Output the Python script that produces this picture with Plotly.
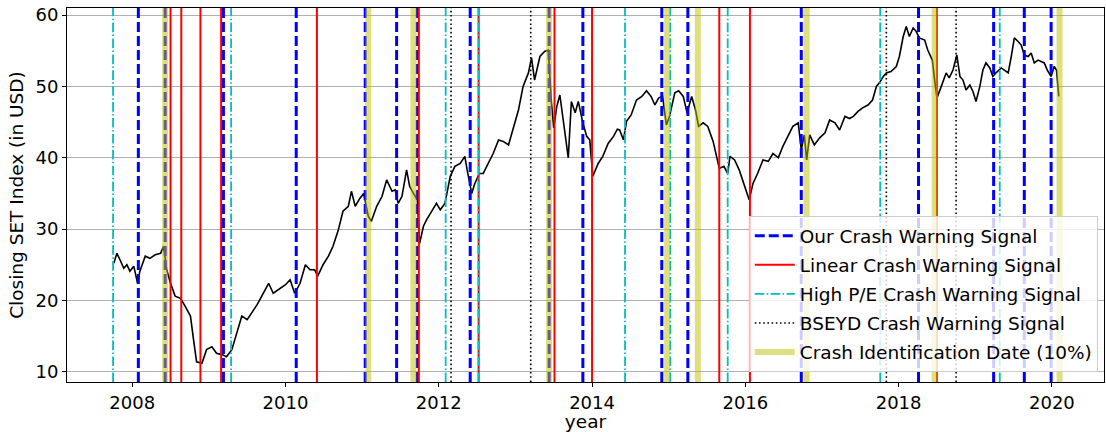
import plotly.graph_objects as go

# Closing SET index (USD), sampled along the series, decimal years
years = [
    2007.76, 2007.80, 2007.84, 2007.89, 2007.93, 2007.97, 2008.02, 2008.07, 2008.10, 2008.17,
    2008.23, 2008.30, 2008.37, 2008.41, 2008.45, 2008.50, 2008.56, 2008.63, 2008.69, 2008.76,
    2008.80, 2008.84, 2008.91, 2008.97, 2009.04, 2009.10, 2009.17, 2009.23, 2009.30, 2009.37,
    2009.43, 2009.50, 2009.56, 2009.63, 2009.69, 2009.78, 2009.84, 2009.91, 2010.00, 2010.06,
    2010.12, 2010.19, 2010.26, 2010.32, 2010.38, 2010.42, 2010.49, 2010.56, 2010.62, 2010.69,
    2010.75, 2010.82, 2010.86, 2010.91, 2010.97, 2011.02, 2011.08, 2011.12, 2011.19, 2011.26,
    2011.32, 2011.39, 2011.43, 2011.47, 2011.52, 2011.58, 2011.62, 2011.67, 2011.72, 2011.75,
    2011.80, 2011.84, 2011.91, 2011.97, 2012.02, 2012.08, 2012.15, 2012.21, 2012.28, 2012.34,
    2012.37, 2012.43, 2012.47, 2012.53, 2012.58, 2012.65, 2012.71, 2012.78, 2012.84, 2012.91,
    2012.97, 2013.04, 2013.10, 2013.17, 2013.21, 2013.25, 2013.32, 2013.38, 2013.43, 2013.47,
    2013.50, 2013.54, 2013.58, 2013.62, 2013.69, 2013.73, 2013.78, 2013.82, 2013.88, 2013.93,
    2013.97, 2014.01, 2014.08, 2014.14, 2014.21, 2014.28, 2014.33, 2014.36, 2014.41, 2014.45,
    2014.51, 2014.58, 2014.65, 2014.71, 2014.77, 2014.82, 2014.87, 2014.92, 2014.97, 2015.01,
    2015.08, 2015.13, 2015.19, 2015.24, 2015.30, 2015.35, 2015.39, 2015.45, 2015.51, 2015.58,
    2015.62, 2015.66, 2015.72, 2015.77, 2015.80, 2015.86, 2015.92, 2015.99, 2016.05, 2016.10,
    2016.16, 2016.23, 2016.30, 2016.36, 2016.43, 2016.49, 2016.56, 2016.62, 2016.69, 2016.73,
    2016.77, 2016.80, 2016.84, 2016.90, 2016.97, 2017.04, 2017.10, 2017.17, 2017.23, 2017.30,
    2017.36, 2017.41, 2017.47, 2017.53, 2017.60, 2017.66, 2017.71, 2017.75, 2017.80, 2017.84,
    2017.90, 2017.97, 2018.01, 2018.06, 2018.10, 2018.14, 2018.19, 2018.23, 2018.27, 2018.34,
    2018.38, 2018.44, 2018.47, 2018.50, 2018.55, 2018.62, 2018.66, 2018.71, 2018.76, 2018.80,
    2018.84, 2018.88, 2018.93, 2018.97, 2019.01, 2019.06, 2019.10, 2019.14, 2019.19, 2019.23,
    2019.27, 2019.34, 2019.38, 2019.43, 2019.47, 2019.51, 2019.56, 2019.60, 2019.64, 2019.69,
    2019.73, 2019.77, 2019.82, 2019.86, 2019.90, 2019.94, 2019.99, 2020.03, 2020.06, 2020.09,
]
closing = [
    25.2, 26.6, 25.7, 24.5, 25.0, 24.1, 24.8, 22.4, 24.1, 26.2,
    25.9, 26.4, 26.6, 27.6, 24.3, 22.4, 20.6, 20.3, 19.2, 17.8,
    14.5, 11.4, 11.2, 13.1, 13.5, 12.6, 12.4, 12.1, 13.1, 15.6,
    17.8, 17.3, 18.2, 19.4, 20.6, 22.4, 21.0, 21.5, 22.2, 22.9,
    21.0, 22.4, 25.0, 24.3, 24.3, 23.4, 25.0, 26.2, 27.6, 29.9,
    32.5, 33.2, 35.3, 33.2, 34.3, 35.0, 31.8, 31.1, 33.2, 34.6,
    36.9, 35.3, 35.5, 33.6, 34.6, 38.3, 36.0, 35.0, 34.1, 28.0,
    30.4, 31.3, 32.5, 33.6, 32.7, 33.6, 37.4, 38.8, 39.2, 40.2,
    38.3, 35.0, 36.4, 37.8, 37.8, 39.2, 40.6, 42.5, 42.3, 41.8,
    43.9, 46.7, 50.0, 51.9, 54.0, 50.9, 54.2, 54.9, 55.1, 47.7,
    44.2, 47.2, 48.8, 45.3, 40.0, 47.9, 46.3, 47.9, 44.9, 43.0,
    42.5, 37.4, 39.2, 40.2, 42.0, 43.0, 44.0, 43.9, 42.5, 45.1,
    46.0, 48.1, 48.6, 49.4, 48.6, 47.4, 48.4, 48.6, 44.6, 45.8,
    49.1, 49.4, 48.6, 46.3, 48.6, 46.7, 44.4, 44.9, 44.4, 42.3,
    40.6, 38.5, 38.8, 37.8, 40.2, 39.7, 38.3, 36.0, 34.1, 36.4,
    37.8, 39.7, 39.5, 40.6, 40.0, 41.6, 43.0, 44.4, 44.9, 41.1,
    43.2, 39.7, 43.2, 41.8, 42.8, 43.5, 45.3, 44.9, 43.9, 45.8,
    45.5, 45.8, 46.5, 47.0, 47.4, 48.1, 50.0, 50.5, 51.4, 51.9,
    52.1, 52.8, 54.2, 57.0, 58.4, 57.0, 58.2, 57.7, 56.8, 56.5,
    55.1, 53.7, 50.9, 48.4, 49.8, 51.9, 51.2, 52.3, 54.4, 51.4,
    50.9, 49.5, 50.2, 49.3, 47.9, 50.0, 52.3, 53.3, 52.6, 51.4,
    51.9, 52.6, 52.3, 51.9, 54.2, 56.8, 56.3, 55.8, 54.4, 54.2,
    54.7, 53.3, 53.7, 53.5, 53.3, 52.3, 51.4, 52.8, 52.3, 48.6,
]

# Signal dates (decimal years)
our_signal = [2008.08, 2008.43, 2009.19, 2010.14, 2011.04, 2011.45, 2011.72, 2012.41,
              2013.44, 2013.88, 2014.91, 2015.25, 2016.73, 2018.26, 2019.24, 2019.64, 2019.99]
linear_signal = [2008.50, 2008.64, 2008.89, 2009.16, 2010.41, 2011.74, 2012.52, 2013.51,
                 2014.00, 2015.66, 2016.06, 2018.50]
pe_signal = [2007.75, 2009.29, 2012.09, 2012.52, 2014.43, 2015.02, 2015.77, 2017.76, 2019.32]
bseyd_signal = [2012.16, 2013.20, 2017.84, 2018.75]
crash_dates = [2008.43, 2011.08, 2011.67, 2013.44, 2014.98, 2015.38, 2016.80, 2018.47, 2020.10]

x_ticks = [2008, 2010, 2012, 2014, 2016, 2018, 2020]
y_ticks = [10, 20, 30, 40, 50, 60]

FONT = "DejaVu Sans"


def vlines(dates):
    xs, ys = [], []
    for d in dates:
        xs += [d, d, None]
        ys += [0, 1, None]
    return xs, ys


fig = go.Figure()

fig.add_trace(go.Scatter(
    x=years, y=closing, mode="lines",
    line=dict(color="black", width=1.6),
    showlegend=False, hoverinfo="skip",
))

series = [
    (our_signal, "Our Crash Warning Signal", dict(color="#0000FF", width=3, dash="10px,4px")),
    (linear_signal, "Linear Crash Warning Signal", dict(color="#FF0000", width=2)),
    (pe_signal, "High P/E Crash Warning Signal",
     dict(color="#00BFBF", width=1.8, dash="9.6px,2.4px,1.5px,2.4px")),
    (bseyd_signal, "BSEYD Crash Warning Signal", dict(color="black", width=1.6, dash="1.6px,2.6px")),
    (crash_dates, "Crash Identification Date (10%)", dict(color="rgba(191,191,0,0.5)", width=6)),
]
for i, (dates, name, line) in enumerate(series):
    xs, ys = vlines(dates)
    fig.add_trace(go.Scatter(
        x=xs, y=ys, yaxis="y2", mode="lines", name=name, line=line,
        legendgroup=f"g{i}", hoverinfo="skip",
    ))

fig.update_layout(
    width=1106, height=432,
    margin=dict(l=67, r=2, t=8, b=50),
    paper_bgcolor="white", plot_bgcolor="white",
    font=dict(family=FONT, size=18, color="black"),
    xaxis=dict(
        range=[2007.149, 2020.68], tickvals=x_ticks, ticktext=[str(t) for t in x_ticks],
        showgrid=False, zeroline=False, showline=True, mirror=True,
        linecolor="black", linewidth=1, ticks="outside", ticklen=4, tickcolor="black",
        tickfont=dict(size=18),
        title=dict(text="year", font=dict(size=18.5), standoff=4),
    ),
    yaxis=dict(
        range=[8.56, 61.0], tickvals=y_ticks,
        showgrid=True, gridcolor="#b0b0b0", gridwidth=1, zeroline=False,
        showline=True, mirror=True, linecolor="black", linewidth=1,
        ticks="outside", ticklen=4, tickcolor="black",
        tickfont=dict(size=18),
        title=dict(text="Closing SET Index (in USD)", font=dict(size=18.5), standoff=7),
    ),
    yaxis2=dict(range=[0, 1], overlaying="y", visible=False, fixedrange=True),
    legend=dict(
        x=0.994, y=0.026, xanchor="right", yanchor="bottom",
        bgcolor="rgba(255,255,255,0.8)", bordercolor="#cccccc", borderwidth=1,
        font=dict(size=18.5), traceorder="grouped", tracegroupgap=2, itemwidth=40,
    ),
)

fig.write_html("out.html")
